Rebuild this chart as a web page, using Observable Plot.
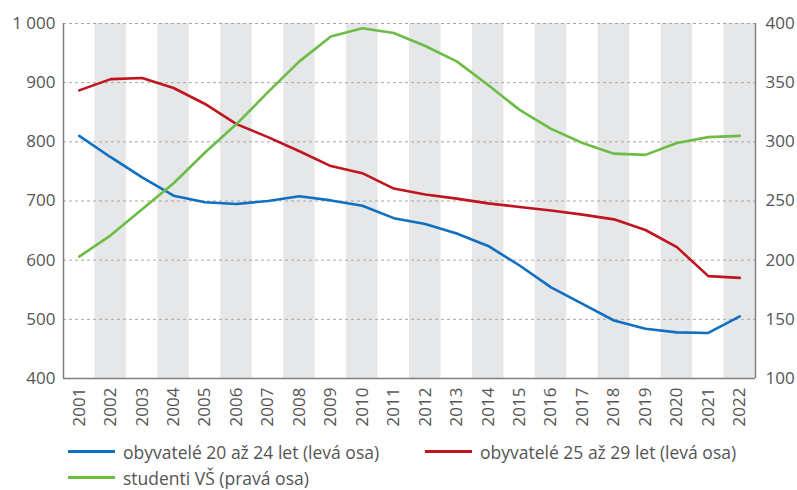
<!DOCTYPE html>
<html>
<head>
<meta charset="utf-8">
<script src="https://cdn.jsdelivr.net/npm/d3@7"></script>
<script src="https://cdn.jsdelivr.net/npm/@observablehq/plot@0.6"></script>
<style>
  body { margin: 0; background: #fff; font-family: "Open Sans", sans-serif; }
  #chart { width: 797px; }
  .legend { display: grid; grid-template-columns: 357px auto; row-gap: 3px; margin-left: 68px; margin-top: 10px; font-size: 17.5px; color: #555; }
  .item { display: flex; align-items: center; height: 23px; }
  .sw { width: 47px; height: 3px; margin-right: 8px; }
</style>
</head>
<body>
<div id="chart"></div>
<script>
const years = [2001,2002,2003,2004,2005,2006,2007,2008,2009,2010,2011,2012,2013,2014,2015,2016,2017,2018,2019,2020,2021,2022];
const pop2024 = [810,774,740,709,698,695,700,708,701,692,671,661,645,624,591,554,526,498,484,478,477,505];
const pop2529 = [887,906,908,891,864,830,808,784,759,747,721,711,704,696,690,684,677,669,651,622,573,570];
const students = [203,221,243,265,291,315,342,368,389,396,392,381,368,348,327,311,299,290,289,299,304,305];
const leftTicks = [400,500,600,700,800,900,1000];
const rightTicks = [100,150,200,250,300,350,400];
const seriesNames = ["obyvatelé 20 až 24 let (levá osa)", "obyvatelé 25 až 29 let (levá osa)", "studenti VŠ (pravá osa)"];
const colors = ["#0f6fc0", "#c0141f", "#6cbd45"];

// right axis 100..400 maps to left 400..1000
const toLeft = r => 400 + (r - 100) * 2;
const toRight = l => (l - 400) / 2 + 100;

const rows = [];
years.forEach((y, i) => {
  rows.push({year: y, value: pop2024[i], s: seriesNames[0]});
  rows.push({year: y, value: pop2529[i], s: seriesNames[1]});
  rows.push({year: y, value: toLeft(students[i]), s: seriesNames[2]});
});
const evenYears = years.filter(y => y % 2 === 0);
const fmt = d => d3.format(",")(d).replace(/,/g, " ");

const plot = Plot.plot({
  width: 797,
  height: 430,
  marginTop: 23,
  marginBottom: 52,
  marginLeft: 63,
  marginRight: 42,
  style: {fontFamily: "Open Sans", fontSize: "17px", color: "#555", background: "#fff"},
  x: {type: "linear", domain: [years[0] - 0.5, years[years.length - 1] + 0.5]},
  y: {domain: [400, 1000]},
  color: {domain: seriesNames, range: colors},
  marks: [
    Plot.rectY(evenYears, {x1: d => d - 0.5, x2: d => d + 0.5, y1: 400, y2: 1000, fill: "#e6e7e8"}),
    Plot.ruleY(leftTicks.slice(1), {stroke: "#a6a6a6", strokeWidth: 1, strokeDasharray: "3,3"}),
    Plot.line(rows, {x: "year", y: "value", z: "s", stroke: "s", strokeWidth: 2.6, strokeLinejoin: "round"}),
    Plot.ruleX([years[0] - 0.5, years[years.length - 1] + 0.5], {y1: 400, y2: 1000, stroke: "#7f7f7f", strokeWidth: 1.5}),
    Plot.ruleY([400], {stroke: "#7f7f7f", strokeWidth: 1.5}),
    Plot.axisY({anchor: "left", ticks: leftTicks, tickSize: 0, tickPadding: 8, tickFormat: fmt, label: null}),
    Plot.axisY({anchor: "right", ticks: leftTicks, tickSize: 0, tickPadding: 10, tickFormat: d => String(toRight(d)), label: null}),
    Plot.axisX({ticks: years, tickSize: 0, tickPadding: 9, tickRotate: -90, tickFormat: d => String(d), label: null})
  ]
});
const chart = document.getElementById("chart");
chart.appendChild(plot);

const legend = document.createElement("div");
legend.className = "legend";
seriesNames.forEach((n, i) => {
  const it = document.createElement("div");
  it.className = "item";
  it.innerHTML = `<span class="sw" style="background:${colors[i]}"></span><span>${n}</span>`;
  legend.appendChild(it);
});
chart.appendChild(legend);
</script>
</body>
</html>
